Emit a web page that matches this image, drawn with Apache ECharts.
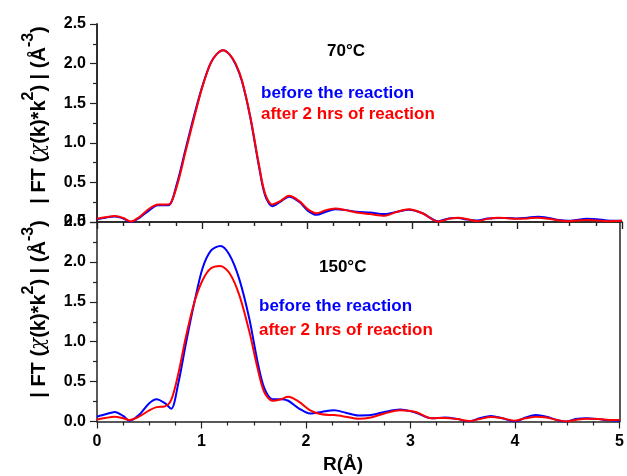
<!DOCTYPE html>
<html>
<head>
<meta charset="utf-8">
<script src="https://cdn.jsdelivr.net/npm/echarts@6/dist/echarts.min.js"></script>
<style>html,body{margin:0;padding:0;background:#fff}#c{width:627px;height:476px}</style>
</head>
<body>
<div id="c"></div>
<script>
// ---- data ----
const rTop = [0, 0.08, 0.17, 0.25, 0.32, 0.4, 0.5, 0.58, 0.68, 0.76, 0.84, 0.92, 1.0, 1.08, 1.14, 1.2, 1.26, 1.32, 1.38, 1.46, 1.54, 1.6, 1.67, 1.74, 1.83, 1.93, 2.01, 2.09, 2.18, 2.27, 2.37, 2.47, 2.6, 2.74, 2.86, 2.97, 3.1, 3.25, 3.35, 3.44, 3.53, 3.62, 3.72, 3.82, 3.92, 4.0, 4.1, 4.2, 4.3, 4.4, 4.49, 4.58, 4.66, 4.76, 4.86, 5.0];
const blueTop = [0.035, 0.055, 0.07, 0.045, 0.0, 0.05, 0.15, 0.21, 0.21, 0.48, 0.9, 1.32, 1.7, 2.0, 2.12, 2.17, 2.12, 1.99, 1.78, 1.32, 0.72, 0.34, 0.2, 0.25, 0.32, 0.25, 0.14, 0.09, 0.13, 0.16, 0.15, 0.13, 0.12, 0.1, 0.13, 0.155, 0.11, 0.01, 0.045, 0.05, 0.03, 0.02, 0.045, 0.05, 0.05, 0.045, 0.055, 0.065, 0.05, 0.025, 0.015, 0.03, 0.04, 0.035, 0.02, 0.015];
const redTop = [0.04, 0.06, 0.075, 0.05, 0.005, 0.06, 0.17, 0.22, 0.22, 0.45, 0.87, 1.29, 1.69, 2.0, 2.12, 2.17, 2.12, 2.0, 1.79, 1.33, 0.74, 0.36, 0.22, 0.26, 0.33, 0.26, 0.16, 0.11, 0.15, 0.17, 0.15, 0.12, 0.1, 0.08, 0.13, 0.16, 0.11, 0.005, 0.04, 0.055, 0.035, 0.01, 0.04, 0.055, 0.045, 0.04, 0.045, 0.055, 0.04, 0.02, 0.01, 0.02, 0.025, 0.02, 0.01, 0.015];

const rBottom = [0, 0.08, 0.17, 0.25, 0.31, 0.4, 0.5, 0.57, 0.65, 0.71, 0.775, 0.854, 0.933, 1.01, 1.09, 1.18, 1.267, 1.36, 1.457, 1.536, 1.6, 1.68, 1.76, 1.83, 1.93, 2.04, 2.15, 2.27, 2.38, 2.5, 2.62, 2.75, 2.9, 3.05, 3.2, 3.33, 3.45, 3.56, 3.66, 3.77, 3.88, 4.0, 4.1, 4.2, 4.3, 4.4, 4.49, 4.58, 4.68, 4.8, 4.9, 5.0];
const blueBottom = [0.06, 0.09, 0.12, 0.07, 0.01, 0.08, 0.23, 0.28, 0.23, 0.16, 0.46, 1.0, 1.5, 1.92, 2.14, 2.2, 2.09, 1.79, 1.29, 0.75, 0.42, 0.28, 0.28, 0.26, 0.165, 0.1, 0.12, 0.14, 0.11, 0.075, 0.08, 0.12, 0.15, 0.11, 0.04, 0.05, 0.03, 0.0, 0.04, 0.07, 0.04, 0.0, 0.05, 0.08, 0.06, 0.02, 0.0, 0.03, 0.04, 0.03, 0.015, 0.01];
const redBottom = [0.025, 0.045, 0.06, 0.04, 0.02, 0.06, 0.14, 0.18, 0.19, 0.27, 0.58, 1.08, 1.5, 1.77, 1.92, 1.95, 1.86, 1.59, 1.13, 0.67, 0.37, 0.26, 0.28, 0.31, 0.25, 0.14, 0.09, 0.08, 0.06, 0.035, 0.05, 0.1, 0.14, 0.12, 0.04, 0.045, 0.03, 0.005, 0.03, 0.055, 0.04, 0.01, 0.04, 0.06, 0.05, 0.02, 0.0, 0.02, 0.035, 0.03, 0.02, 0.02];

const xTicks = [0, 1, 2, 3, 4, 5];
const yTicks = [0.0, 0.5, 1.0, 1.5, 2.0, 2.5];
const panelLabels = ['70°C', '150°C'];
const legendNames = ['before the reaction', 'after 2 hrs of reaction'];

// ---- chart ----
const FONT = 'Liberation Sans, Arial, sans-serif';
const chart = echarts.init(document.getElementById('c'), null, {renderer: 'canvas'});
const pair = (xs, ys) => xs.map((x, i) => [x, ys[i]]);

const lineAx = {show: true, lineStyle: {color: '#222', width: 1.5}};
function xAx(gi, pos, opts) {
  return Object.assign({
    type: 'value', gridIndex: gi, position: pos,
    min: xTicks[0], max: xTicks[xTicks.length - 1], interval: 1,
    axisLine: lineAx,
    axisTick: {show: true, inside: false, length: 7, lineStyle: {color: '#222', width: 1.2}},
    minorTick: {show: true, splitNumber: 4, length: 4, lineStyle: {color: '#222', width: 1.2}},
    axisLabel: {show: false},
    splitLine: {show: false}
  }, opts || {});
}
function yAx(gi, pos, opts) {
  return Object.assign({
    type: 'value', gridIndex: gi, position: pos,
    min: yTicks[0], max: yTicks[yTicks.length - 1], interval: 0.5,
    axisLine: lineAx,
    axisTick: {show: true, inside: false, length: 7, lineStyle: {color: '#222', width: 1.2}},
    minorTick: {show: true, splitNumber: 2, length: 4, lineStyle: {color: '#222', width: 1.2}},
    axisLabel: {show: true, margin: 11, color: '#000', fontFamily: FONT, fontWeight: 'bold', fontSize: 16,
      formatter: v => v.toFixed(1)},
    splitLine: {show: false}
  }, opts || {});
}
const noTicks = {axisTick: {show: false}, minorTick: {show: false}, axisLabel: {show: false}};

function ytitle(x, y) {
  return {
    type: 'text', x: x, y: y, rotation: Math.PI / 2,
    style: {
      text: '{n|| FT (}{c|χ}{n|(k)*k}{s|2}{n|) | (Å}{s|-3}{n|)}',
      align: 'center', verticalAlign: 'middle', textAlign: 'center', textVerticalAlign: 'middle',
      fill: '#000',
      rich: {
        n: {fontFamily: FONT, fontWeight: 'bold', fontSize: 20, lineHeight: 28, verticalAlign: 'bottom', fill: '#000'},
        c: {fontFamily: 'DejaVu Serif, serif', fontStyle: 'italic', fontSize: 20, lineHeight: 28, verticalAlign: 'bottom', fill: '#000'},
        s: {fontFamily: FONT, fontWeight: 'bold', fontSize: 16, lineHeight: 28, verticalAlign: 'top', fill: '#000'}
      }
    }
  };
}
function txt(x, y, s, color) {
  return {type: 'text', x: x, y: y,
    style: {text: s, fill: color, font: 'bold 17px ' + FONT, align: 'left', verticalAlign: 'middle', textAlign: 'left', textVerticalAlign: 'middle'}};
}

const option = {
  animation: false,
  backgroundColor: '#fff',
  grid: [
    {left: 97, right: 5, top: 24, height: 198},
    {left: 97, right: 5, top: 222, height: 199.5}
  ],
  xAxis: [
    xAx(0, 'bottom'),
    xAx(0, 'top', {axisTick: {show: true, inside: true, length: 7, lineStyle: {color: '#222', width: 1.2}},
                   minorTick: {show: true, splitNumber: 4, length: 4, lineStyle: {color: '#222', width: 1.2}}}),
    xAx(1, 'bottom', {axisLabel: {show: true, margin: 12, color: '#000', fontFamily: FONT, fontWeight: 'bold', fontSize: 16}})
  ],
  yAxis: [
    yAx(0, 'left'),
    yAx(0, 'right', noTicks),
    yAx(1, 'left'),
    yAx(1, 'right', noTicks)
  ],
  series: [
    {type: 'line', name: legendNames[0], xAxisIndex: 0, yAxisIndex: 0, data: pair(rTop, blueTop), smooth: 0.3, showSymbol: false, lineStyle: {color: '#0000ff', width: 2}, itemStyle: {color: '#0000ff'}},
    {type: 'line', name: legendNames[1], xAxisIndex: 0, yAxisIndex: 0, data: pair(rTop, redTop), smooth: 0.3, showSymbol: false, lineStyle: {color: '#ff0000', width: 2}, itemStyle: {color: '#ff0000'}},
    {type: 'line', name: legendNames[0], xAxisIndex: 2, yAxisIndex: 2, data: pair(rBottom, blueBottom), smooth: 0.3, showSymbol: false, lineStyle: {color: '#0000ff', width: 2}, itemStyle: {color: '#0000ff'}},
    {type: 'line', name: legendNames[1], xAxisIndex: 2, yAxisIndex: 2, data: pair(rBottom, redBottom), smooth: 0.3, showSymbol: false, lineStyle: {color: '#ff0000', width: 2}, itemStyle: {color: '#ff0000'}}
  ],
  graphic: [
    ytitle(35, 115),
    ytitle(35, 309),
    txt(327, 51, panelLabels[0], '#000'),
    txt(261, 93, legendNames[0], '#0000ff'),
    txt(261, 114, legendNames[1], '#ff0000'),
    txt(319, 267, panelLabels[1], '#000'),
    txt(259, 306, legendNames[0], '#0000ff'),
    txt(259, 330, legendNames[1], '#ff0000'),
    {type: 'text', x: 343, y: 465, style: {text: 'R(Å)', fill: '#000', font: 'bold 19px ' + FONT, align: 'center', verticalAlign: 'middle', textAlign: 'center', textVerticalAlign: 'middle'}}
  ]
};
chart.setOption(option);
</script>
</body>
</html>
